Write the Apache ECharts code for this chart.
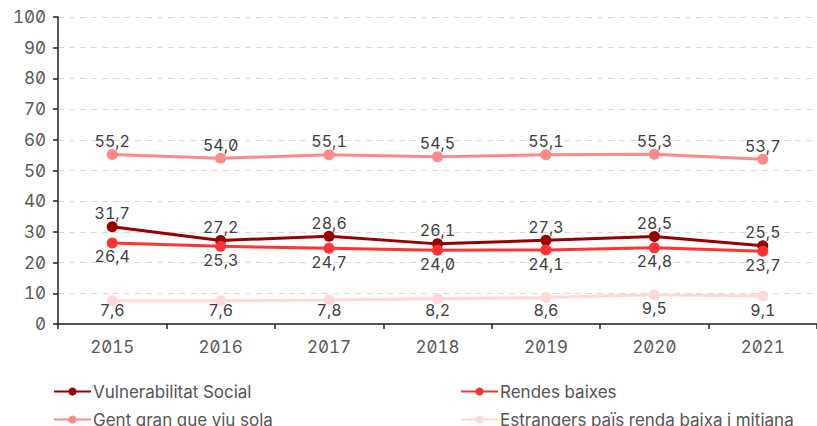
<!DOCTYPE html>
<html>
<head>
<meta charset="utf-8">
<script src="https://cdn.jsdelivr.net/npm/echarts@6/dist/echarts.min.js"></script>
<style>
html,body{margin:0;padding:0;background:#fff;}
#chart{width:817px;height:426px;}
#chart text{font-feature-settings:"zero" 1, "tnum" 1;}
</style>
</head>
<body>
<div id="chart"></div>
<script>
var categories = ['2015','2016','2017','2018','2019','2020','2021'];
var vulnerabilitat = [31.7, 27.2, 28.6, 26.1, 27.3, 28.5, 25.5];
var rendes = [26.4, 25.3, 24.7, 24.0, 24.1, 24.8, 23.7];
var gentGran = [55.2, 54.0, 55.1, 54.5, 55.1, 55.3, 53.7];
var estrangers = [7.6, 7.6, 7.8, 8.2, 8.6, 9.5, 9.1];
var names = ['Vulnerabilitat Social','Rendes baixes','Gent gran que viu sola','Estrangers païs renda baixa i mitjana'];
var colors = ['#990000','#FF3333','#FF8A8A','#FFD9D9'];
var yTicks = {min:0, max:100, interval:10};

var FONT = 'Inter';
var GRID_TOP = 17, GRID_BOTTOM = 102, H = 426;
function mk(name, data, color, pos, clamp){
  var d = data;
  if (clamp) {
    // keep labels inside the plot area (like the original), computed from the axis scale
    var plotH = H - GRID_TOP - GRID_BOTTOM;
    var pxPerUnit = plotH / (yTicks.max - yTicks.min);
    d = data.map(function(v){
      var pointY = GRID_TOP + plotH - (v - yTicks.min) * pxPerUnit;
      var labelC = pointY + 15;
      var limit = GRID_TOP + plotH - 13;
      var off = Math.min(0, limit - labelC);
      return {value: v, label: {offset: [0, off]}};
    });
  }
  return {
    name: name, type: 'line', data: d,
    symbol: 'circle', symbolSize: 11,
    lineStyle: {color: color, width: 3},
    itemStyle: {color: color},
    label: {show: true, position: pos, distance: 0, formatter: function(p){ return Number(p.value).toFixed(1).replace('.', ','); },
      fontFamily: FONT, fontSize: 16, color: '#404040'},
    emphasis: {disabled: true}, animation: false
  };
}
var chart = echarts.init(document.getElementById('chart'), null, {renderer: 'svg'});
var legendText = {fontFamily: FONT, fontSize: 17, color: '#555', padding: [0,0,0,-3]};
chart.setOption({
  animation: false,
  textStyle: {fontFamily: FONT},
  grid: {left: 58, right: 0, top: GRID_TOP, bottom: GRID_BOTTOM, containLabel: false},
  xAxis: {
    type: 'category', data: categories, boundaryGap: true,
    axisLine: {lineStyle: {color: '#222', width: 1.5}},
    axisTick: {show: true, length: 5, lineStyle: {color: '#222', width: 1.5}},
    axisLabel: {fontFamily: FONT, fontSize: 17, color: '#595959', margin: 14},
    splitLine: {show: false}
  },
  yAxis: {
    type: 'value', min: yTicks.min, max: yTicks.max, interval: yTicks.interval,
    axisLine: {show: true, lineStyle: {color: '#222', width: 1.5}},
    axisTick: {show: true, length: 5, lineStyle: {color: '#222', width: 1.5}},
    axisLabel: {fontFamily: FONT, fontSize: 17, color: '#595959', margin: 12},
    splitLine: {lineStyle: {color: '#d9d9d9', type: [6, 5], width: 1}}
  },
  legend: [
    {orient: 'vertical', left: 53, top: 383, height: 60, padding: 0, itemGap: 11, itemWidth: 37, itemHeight: 10,
     data: [names[0], names[2]], textStyle: legendText},
    {orient: 'vertical', left: 460, top: 383, height: 60, padding: 0, itemGap: 11, itemWidth: 37, itemHeight: 10,
     data: [names[1], names[3]], textStyle: legendText}
  ],
  series: [
    mk(names[0], vulnerabilitat, colors[0], 'top'),
    mk(names[1], rendes, colors[1], 'bottom'),
    mk(names[2], gentGran, colors[2], 'top'),
    mk(names[3], estrangers, colors[3], 'bottom', true)
  ]
});
</script>
</body>
</html>
